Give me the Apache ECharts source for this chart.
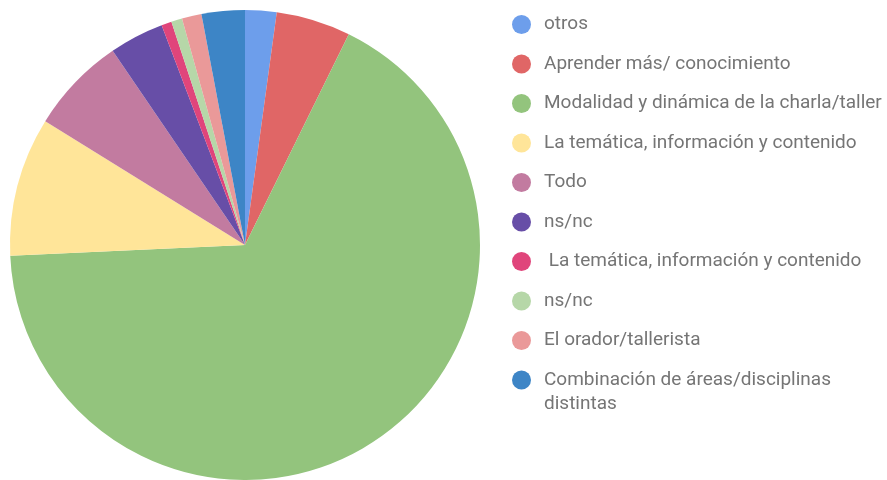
<!DOCTYPE html>
<html>
<head>
<meta charset="utf-8">
<script src="https://cdn.jsdelivr.net/npm/echarts@6/dist/echarts.min.js"></script>
<style>
  html, body { margin: 0; padding: 0; background: #fff; }
  #chart { width: 887px; height: 480px; }
</style>
</head>
<body>
<div id="chart"></div>
<script>
  // categorías y valores (porcentajes)
  const categories = [
    'otros',
    'Aprender más/ conocimiento',
    'Modalidad y dinámica de la charla/taller',
    'La temática, información y contenido',
    'Todo',
    'ns/nc',
    ' La temática, información y contenido',
    'ns/nc ',
    'El orador/tallerista',
    'Combinación de áreas/disciplinas distintas'
  ];
  const values = [2.16, 5.12, 67.0, 9.55, 6.65, 3.75, 0.7, 0.75, 1.35, 2.97];
  const colors = ['#6d9eeb', '#e06666', '#93c47d', '#ffe599', '#c27ba0',
                  '#674ea7', '#e0457b', '#b6d7a8', '#ea9999', '#3d85c6'];

  const chart = echarts.init(document.getElementById('chart'));

  const textStyle = {
    fontFamily: 'Roboto',
    fontSize: 19,
    color: '#757575'
  };

  chart.setOption({
    animation: false,
    color: colors,
    legend: {
      orient: 'vertical',
      left: 507,
      top: 10,
      height: 460,
      icon: 'circle',
      itemWidth: 19,
      itemHeight: 19,
      itemGap: 20.5,
      data: categories,
      // la última entrada se parte en dos líneas; la segunda va aparte
      formatter: name => name === categories[9] ? 'Combinación de áreas/disciplinas' : name,
      textStyle: Object.assign({ padding: [0, 0, 0, 8] }, textStyle)
    },
    graphic: [{
      type: 'text',
      left: 544,
      top: 395,
      silent: true,
      style: { text: 'distintas', fill: '#757575', font: '19px Roboto' }
    }],
    series: [{
      type: 'pie',
      center: [245, 245],
      radius: 235,
      startAngle: 90,
      clockwise: true,
      label: { show: false },
      labelLine: { show: false },
      data: categories.map((name, i) => ({ name: name, value: values[i] }))
    }]
  });
</script>
</body>
</html>
